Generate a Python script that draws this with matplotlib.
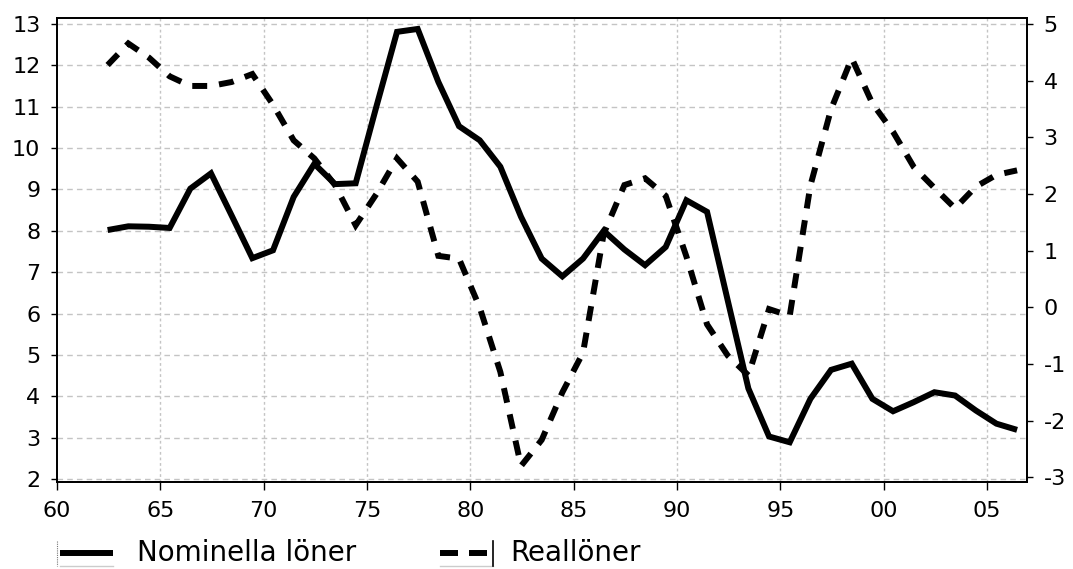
import matplotlib
matplotlib.use("Agg")
import matplotlib.pyplot as plt
from matplotlib.lines import Line2D
import numpy as np

years = list(range(1962, 2007))
nominella = [8.02, 8.11, 8.10, 8.07, 9.02, 9.39, 8.37, 7.34, 7.53, 8.82,
             9.62, 9.13, 9.15, 11.0, 12.81, 12.88, 11.6, 10.53, 10.19, 9.55,
             8.34, 7.33, 6.9, 7.33, 8.0, 7.55, 7.17, 7.61, 8.74, 8.46,
             6.32, 4.19, 3.03, 2.89, 3.94, 4.64, 4.79, 3.94, 3.64, 3.86,
             4.1, 4.02, 3.66, 3.34, 3.19]
reallon = [4.28, 4.66, 4.41, 4.08, 3.91, 3.91, 3.98, 4.12, 3.58, 2.95,
           2.63, 2.16, 1.45, 2.0, 2.63, 2.22, 0.91, 0.86, 0.0, -1.14,
           -2.8, -2.34, -1.5, -0.8, 1.3, 2.16, 2.28, 1.97, 0.9, -0.3,
           -0.85, -1.2, -0.03, -0.15, 2.15, 3.5, 4.4, 3.6, 3.1, 2.48,
           2.11, 1.75, 2.13, 2.34, 2.42]
xticks = [1960, 1965, 1970, 1975, 1980, 1985, 1990, 1995, 2000, 2005]
xlabels = ["60", "65", "70", "75", "80", "85", "90", "95", "00", "05"]
left_ticks = list(range(2, 14))
right_ticks = list(range(-3, 6))
labels = ["Nominella löner", "Reallöner"]

plt.rcParams['font.family'] = ['DejaVu Sans']
plt.rcParams['axes.unicode_minus'] = False

W, H = 1073, 569
fig = plt.figure(figsize=(W / 100, H / 100), dpi=100)
ax = fig.add_axes([57 / W, 1 - 482 / H, (1027 - 57) / W, (482 - 18) / H])
ax2 = ax.twinx()

x = np.array(years) + 0.45

grid_c = "#c4c4c4"
for t in left_ticks:
    ax.axhline(t, color=grid_c, lw=1.0, ls=(0, (4, 3)), zorder=0)
for t in xticks[1:]:
    ax.axvline(t, color=grid_c, lw=1.0, ls=(0, (2, 2)), zorder=0)

LW = 4.3
ax.plot(x, nominella, color="black", lw=LW, solid_joinstyle="miter",
        solid_capstyle="butt", zorder=3)
ax2.plot(x, reallon, color="black", lw=LW, dashes=(2.5, 2.0),
         dash_capstyle="butt", dash_joinstyle="miter", zorder=3)

ax.set_xlim(1960, 2006.93)
ax.set_ylim(1.93, 13.145)
ax2.set_ylim(-3.083, 5.11)

ax.set_xticks(xticks)
ax.set_xticklabels(xlabels)
ax.set_yticks(left_ticks)
ax2.set_yticks(right_ticks)

fs = 16
ax.tick_params(axis="x", direction="out", length=6, width=1, pad=8, labelsize=fs)
ax.tick_params(axis="y", direction="out", length=4, width=1, pad=8, labelsize=fs)
ax2.tick_params(axis="y", direction="out", length=4, width=1, pad=8, labelsize=fs)

for a in (ax, ax2):
    for s in a.spines.values():
        s.set_linewidth(1.3)
        s.set_color("black")

# legend, built in figure pixel positions
def fx(px):
    return px / W
def fy(py):
    return 1 - py / H
ly = fy(553)

fig.add_artist(Line2D([fx(57), fx(57)], [fy(541), fy(566)], color="#777777",
                      lw=0.8, ls=(0, (1, 1))))
fig.add_artist(Line2D([fx(60), fx(113)], [ly, ly], color="black", lw=LW,
                      solid_capstyle="butt"))
fig.add_artist(Line2D([fx(60), fx(113)], [fy(566), fy(566)], color="#cccccc", lw=1.0))
fig.text(fx(137), ly, labels[0], fontsize=20, va="center", ha="left")

fig.add_artist(Line2D([fx(440), fx(458)], [ly, ly], color="black", lw=LW,
                      solid_capstyle="butt"))
fig.add_artist(Line2D([fx(469), fx(487)], [ly, ly], color="black", lw=LW,
                      solid_capstyle="butt"))
fig.add_artist(Line2D([fx(440), fx(493)], [fy(566), fy(566)], color="#cccccc", lw=1.0))
fig.add_artist(Line2D([fx(493), fx(493)], [fy(541), fy(566)], color="black", lw=1.2))
fig.text(fx(510), ly, labels[1], fontsize=20, va="center", ha="left")

fig.savefig("out.png", dpi=100)
